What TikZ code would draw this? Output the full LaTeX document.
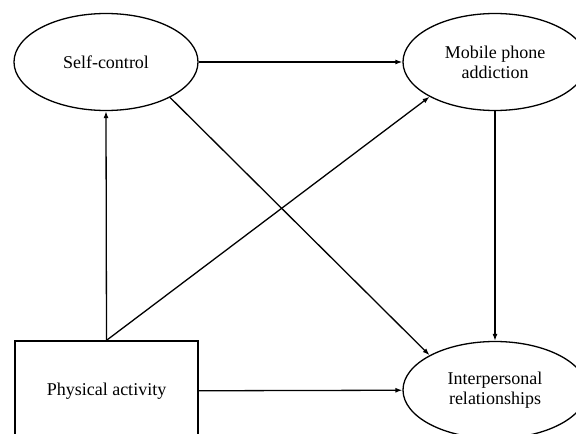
\documentclass[tikz,border=0pt]{standalone}
\usepackage{fontspec}
\setmainfont{Liberation Serif}
\usetikzlibrary{arrows.meta,shapes.geometric}
\tikzset{
  latent/.style={draw, ellipse, line width=1.3pt, minimum width=184pt, minimum height=97pt, align=center, font=\fontsize{18}{20}\selectfont},
  observed/.style={draw, rectangle, line width=1.3pt, minimum width=183pt, minimum height=100pt, font=\fontsize{18}{20}\selectfont},
  effect/.style={draw, line width=1.3pt, -{Latex[length=7pt,width=5pt]}}
}
\begin{document}
\begin{tikzpicture}[x=1pt,y=-1pt]
\useasboundingbox (0,0) rectangle (576,434);
\node[latent] (sc) at (106,62) {Self-control};
\node[latent] (mpa) at (495,62) {Mobile phone\\addiction};
\node[observed] (pa) at (106.5,391) {Physical activity};
\node[latent] (ir) at (495,390) {Interpersonal\\relationships};

\path[effect] (sc) -- (mpa);
\path[effect] (pa.north) -- (sc.south);
\path[effect] (pa.north) -- (mpa.208);
\path[effect] (sc.-29) -- (ir.152);
\path[effect] (mpa.south) -- (ir.north);
\path[effect] (pa) -- (ir);
\end{tikzpicture}
\end{document}
